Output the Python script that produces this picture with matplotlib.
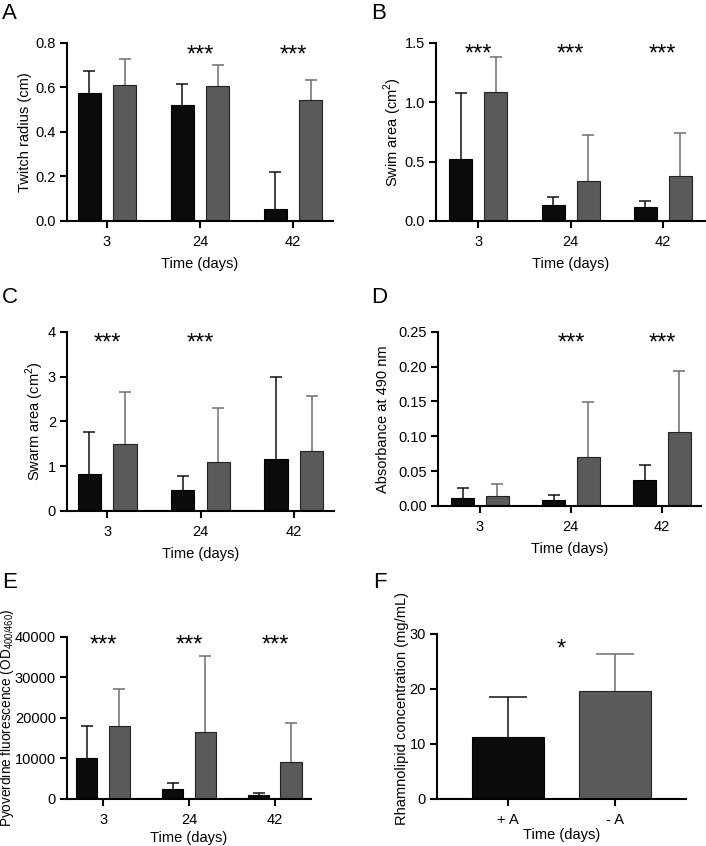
import numpy as np
import matplotlib
matplotlib.use("Agg")
import matplotlib.pyplot as plt

plt.rcParams["font.family"] = ["Liberation Sans", "DejaVu Sans"]
plt.rcParams["mathtext.fontset"] = "custom"
plt.rcParams["mathtext.rm"] = "Liberation Sans"

# veriler
gunler = ["3", "24", "42"]

twitch_pa = [0.575, 0.52, 0.055]
twitch_pa_err = [0.10, 0.095, 0.165]
twitch_ma = [0.61, 0.605, 0.545]
twitch_ma_err = [0.12, 0.095, 0.09]

swim_pa = [0.52, 0.135, 0.115]
swim_pa_err = [0.555, 0.065, 0.055]
swim_ma = [1.09, 0.34, 0.375]
swim_ma_err = [0.295, 0.385, 0.365]

swarm_pa = [0.83, 0.48, 1.17]
swarm_pa_err = [0.94, 0.31, 1.82]
swarm_ma = [1.50, 1.10, 1.33]
swarm_ma_err = [1.16, 1.20, 1.24]

abs_pa = [0.012, 0.008, 0.038]
abs_pa_err = [0.014, 0.008, 0.021]
abs_ma = [0.015, 0.070, 0.106]
abs_ma_err = [0.016, 0.079, 0.087]

pyo_pa = [10100, 2500, 1000]
pyo_pa_err = [7900, 1500, 400]
pyo_ma = [18000, 16500, 9200]
pyo_ma_err = [9100, 18900, 9500]

rham_grup = ["+ A", "- A"]
rham = [11.2, 19.7]
rham_err = [7.3, 6.7]

SIYAH = "#0b0b0b"
GRI = "#5a5a5a"
GRI_HATA = "#6e6e6e"


def hata_ciz(ax, x, y, err, renk, cap):
    # sadece yukari dogru hata cubugu (alt kapak gizli)
    n = len(y)
    cont = ax.errorbar(x, y, yerr=[np.zeros(n), err], fmt="none", ecolor=renk,
                       elinewidth=1.1, capsize=cap, capthick=1.1, zorder=1)
    caplines = cont[1]
    if len(caplines) == 2:
        caplines[0].set_visible(False)


def eksen_duzenle(ax, ymax, yticks, yfmt):
    ax.set_ylim(0, ymax)
    ax.set_yticks(yticks)
    ax.set_yticklabels([yfmt.format(t) for t in yticks])
    for s in ["top", "right"]:
        ax.spines[s].set_visible(False)
    for s in ["left", "bottom"]:
        ax.spines[s].set_linewidth(1.5)
    ax.tick_params(axis="both", width=1.5, length=5, labelsize=10.5, pad=3)
    ax.tick_params(axis="x", pad=5)


def grup_ciz(ax, pa, pa_err, ma, ma_err, yildiz, ystar, xlim, lpad=6):
    x = np.arange(len(gunler))
    w = 0.25
    d = 0.19
    ax.bar(x - d, pa, w, color=SIYAH, edgecolor="#000000", linewidth=0.8, zorder=2)
    ax.bar(x + d, ma, w, color=GRI, edgecolor="#222222", linewidth=0.8, zorder=2)
    hata_ciz(ax, x - d, pa, pa_err, "#111111", 4.3)
    hata_ciz(ax, x + d, ma, ma_err, GRI_HATA, 4.3)
    for i, y in enumerate(yildiz):
        if y:
            ax.text(x[i], ystar, "***", ha="center", va="center", fontsize=17)
    ax.set_xticks(x)
    ax.set_xticklabels(gunler)
    ax.set_xlim(*xlim)
    ax.set_xlabel("Time (days)", fontsize=10.5, labelpad=lpad)


fig = plt.figure(figsize=(7.06, 8.46), dpi=100)

# A
axA = fig.add_axes([0.0949, 0.7388, 0.3768, 0.2104])
grup_ciz(axA, twitch_pa, twitch_pa_err, twitch_ma, twitch_ma_err,
         [False, True, True], 0.745, (-0.43, 2.43))
eksen_duzenle(axA, 0.8, [0.0, 0.2, 0.4, 0.6, 0.8], "{:.1f}")
axA.set_ylabel("Twitch radius (cm)", fontsize=10.5)
axA.yaxis.set_label_coords(-0.132, 0.5)

# B
axB = fig.add_axes([0.6176, 0.7388, 0.381, 0.2104])
grup_ciz(axB, swim_pa, swim_pa_err, swim_ma, swim_ma_err,
         [True, True, True], 1.40, (-0.46, 2.46))
eksen_duzenle(axB, 1.5, [0.0, 0.5, 1.0, 1.5], "{:.1f}")
axB.set_ylabel("Swim area (cm$^2$)", fontsize=10.5)
axB.yaxis.set_label_coords(-0.119, 0.5)

# C
axC = fig.add_axes([0.0949, 0.3960, 0.3782, 0.2116])
grup_ciz(axC, swarm_pa, swarm_pa_err, swarm_ma, swarm_ma_err,
         [True, True, False], 3.74, (-0.43, 2.43))
eksen_duzenle(axC, 4, [0, 1, 2, 3, 4], "{:d}")
axC.set_ylabel("Swarm area (cm$^2$)", fontsize=10.5)
axC.yaxis.set_label_coords(-0.079, 0.5)

# D
axD = fig.add_axes([0.6204, 0.4019, 0.3725, 0.2060])
grup_ciz(axD, abs_pa, abs_pa_err, abs_ma, abs_ma_err,
         [False, True, True], 0.233, (-0.46, 2.43))
eksen_duzenle(axD, 0.25, [0.0, 0.05, 0.10, 0.15, 0.20, 0.25], "{:.2f}")
axD.set_ylabel("Absorbance at 490 nm", fontsize=10.5)
axD.yaxis.set_label_coords(-0.183, 0.5)

# E
axE = fig.add_axes([0.0949, 0.0556, 0.3456, 0.1915])
grup_ciz(axE, pyo_pa, pyo_pa_err, pyo_ma, pyo_ma_err,
         [True, True, True], 37800, (-0.42, 2.42), lpad=3)
eksen_duzenle(axE, 40000, [0, 10000, 20000, 30000, 40000], "{:d}")
axE.set_ylabel("Pyoverdine fluorescence (OD$_{400/460}$)", fontsize=9.8)
axE.yaxis.set_label_coords(-0.207, 0.5)

# F
axF = fig.add_axes([0.619, 0.0556, 0.3527, 0.1950])
xf = np.arange(len(rham_grup))
axF.bar(xf, rham, 0.67, color=[SIYAH, GRI], edgecolor=["#000000", "#222222"],
        linewidth=0.8, zorder=2)
hata_ciz(axF, xf[:1], rham[:1], rham_err[:1], "#111111", 4.3 * 3.2)
hata_ciz(axF, xf[1:], rham[1:], rham_err[1:], GRI_HATA, 4.3 * 3.2)
axF.text(0.5, 27.2, "*", ha="center", va="center", fontsize=17)
axF.set_xticks(xf)
axF.set_xticklabels(rham_grup)
axF.set_xlim(-0.66, 1.66)
axF.set_xlabel("Time (days)", fontsize=10.5, labelpad=1)
eksen_duzenle(axF, 30, [0, 10, 20, 30], "{:d}")
axF.set_ylabel("Rhamnolipid concentration (mg/mL)", fontsize=10.5)
axF.yaxis.set_label_coords(-0.112, 0.55)

# panel harfleri
for harf, (px, py) in zip("ABCDEF", [(2, 3), (371, 3), (2, 287), (371, 287),
                                      (2, 572), (373, 572)]):
    fig.text(px / 706, 1 - py / 846, harf, fontsize=16, ha="left", va="top")

plt.savefig("out.png", dpi=100)
